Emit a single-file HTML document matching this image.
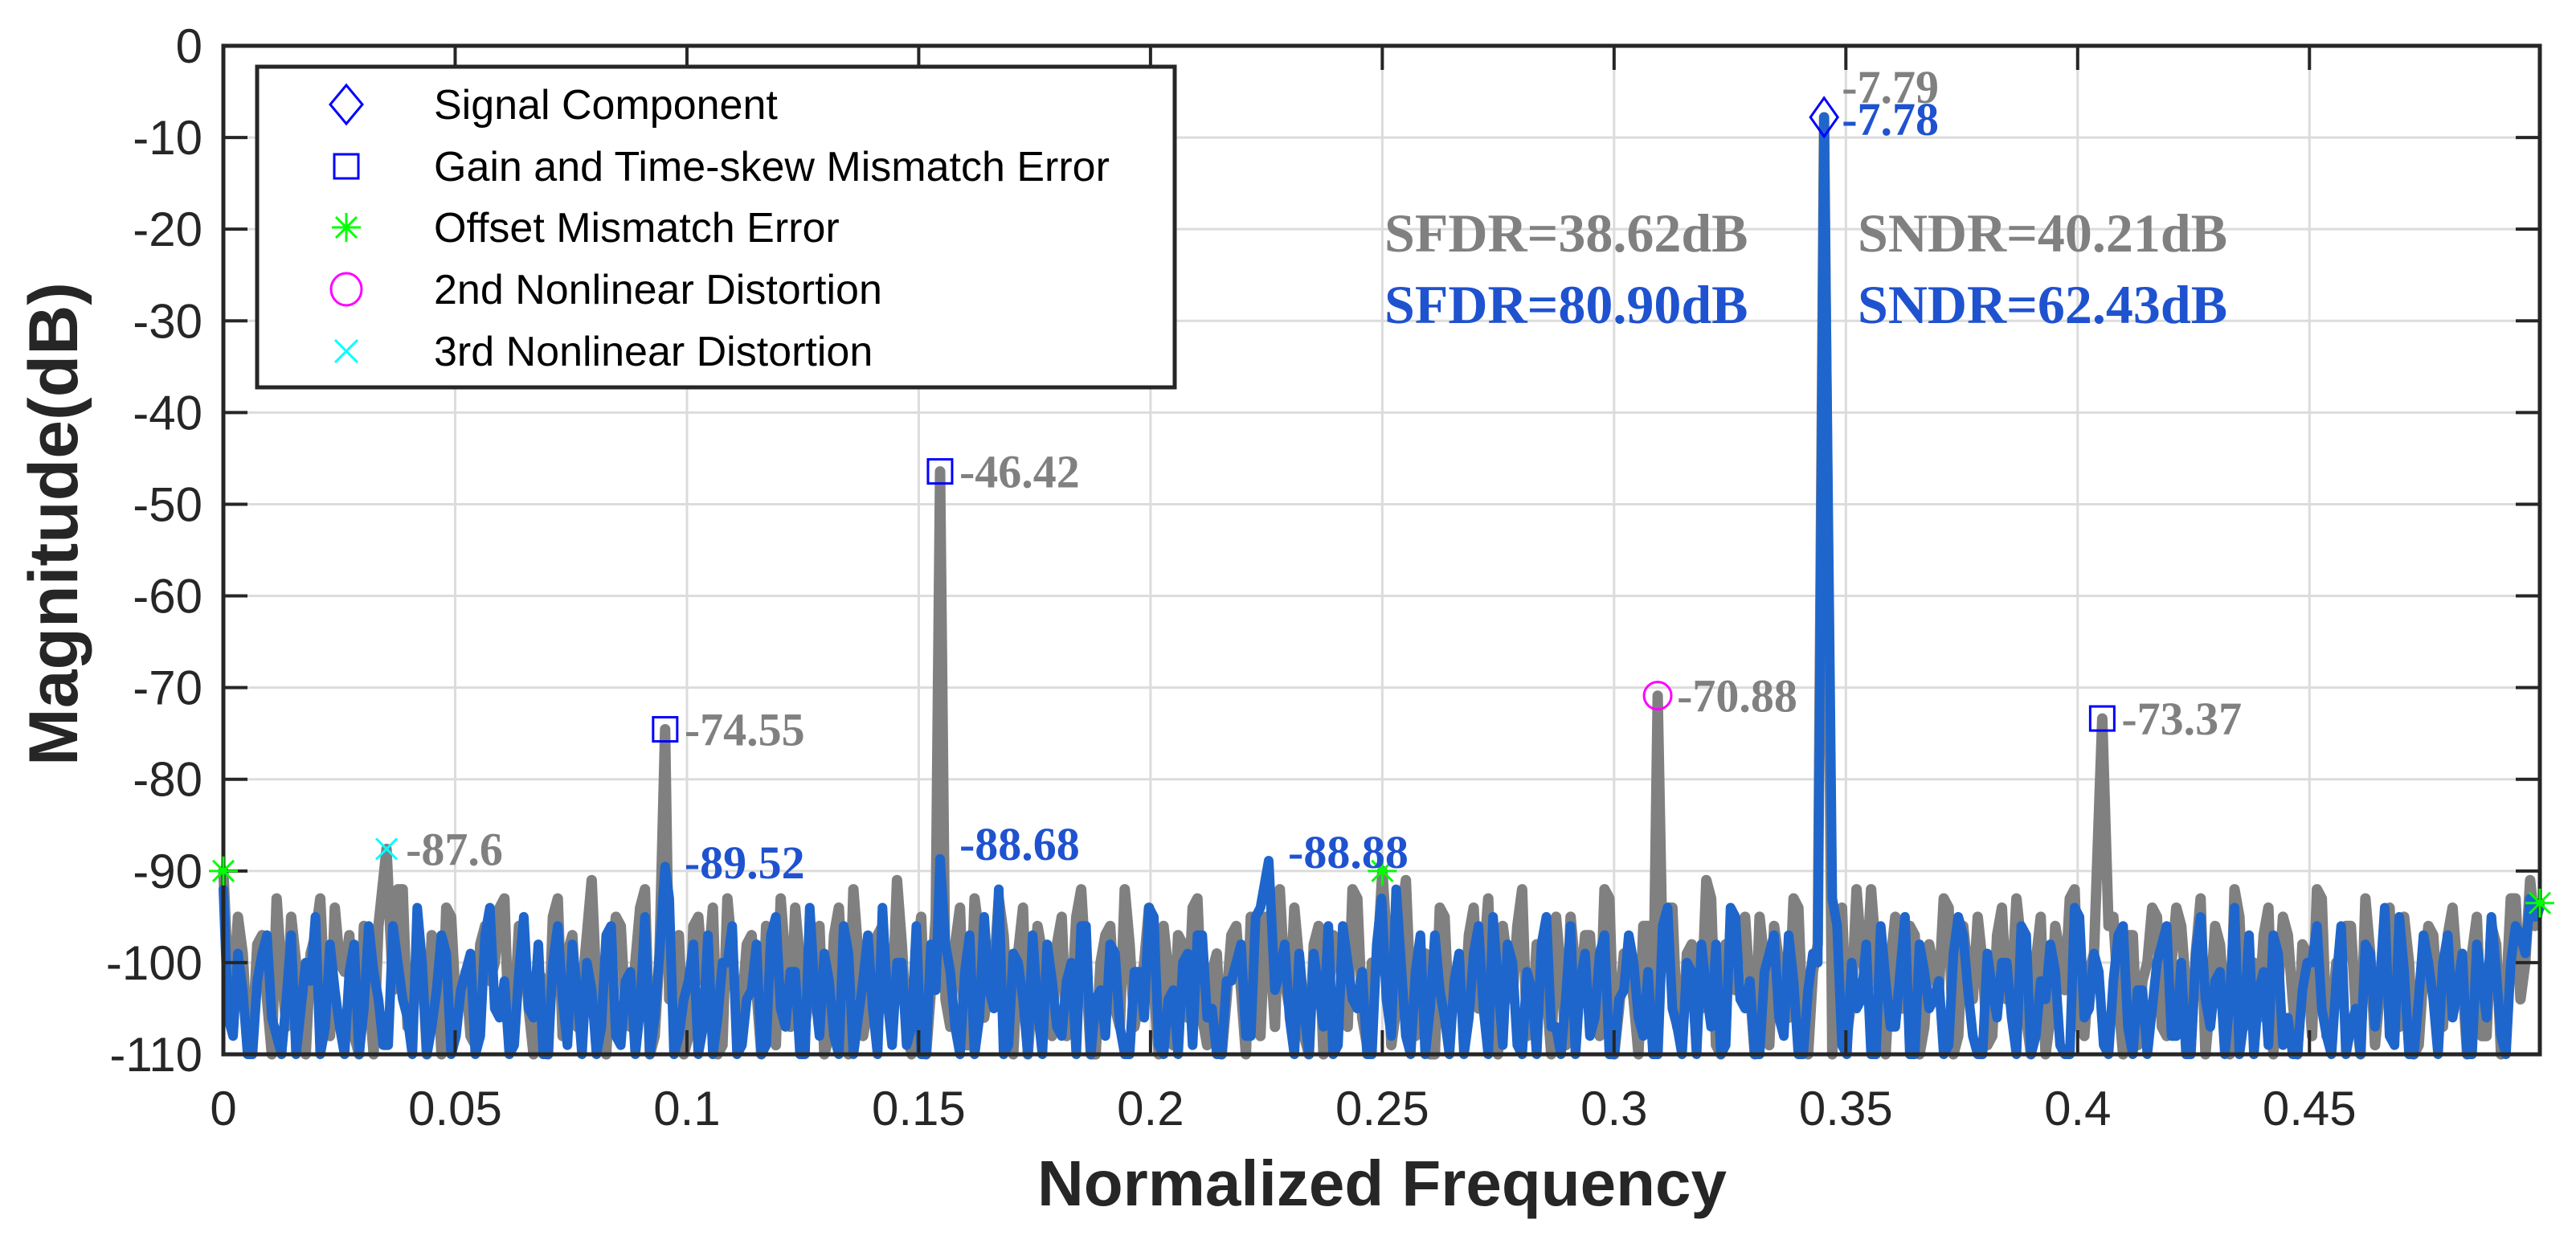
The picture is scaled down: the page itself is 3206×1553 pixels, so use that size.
<!DOCTYPE html>
<html><head><meta charset="utf-8">
<style>
html,body{margin:0;padding:0;background:#fff;}
svg{display:block;}
.tk{font-family:"Liberation Sans",Arial,sans-serif;font-size:60px;fill:#262626;}
.lg{font-family:"Liberation Sans",Arial,sans-serif;font-size:52px;fill:#000;}
.ttl{font-family:"Liberation Sans",Arial,sans-serif;font-weight:bold;fill:#262626;}
.an{font-family:"Liberation Serif","Times New Roman",serif;font-weight:bold;}
</style></head>
<body>
<svg id="chart" width="3206" height="1553" viewBox="0 0 3206 1553" xmlns="http://www.w3.org/2000/svg">
<rect width="3206" height="1553" fill="#fff"/>
<g id="grid"></g>
<g id="series"></g>
<g id="axes"></g>
<g id="markers"></g>
<g id="annots"></g>
<text class="ttl" font-size="80" x="1720" y="1500" text-anchor="middle">Normalized Frequency</text>
<text class="ttl" font-size="86" transform="translate(96,652) rotate(-90)" text-anchor="middle">Magnitude(dB)</text>
<g id="legend">
<rect x="320" y="83" width="1142" height="399" fill="#fff" stroke="#262626" stroke-width="5"/>
<g>
<polygon points="431,106 451,130 431,154 411,130" fill="none" stroke="#0000ff" stroke-width="3"/>
<text class="lg" x="540" y="148">Signal Component</text></g>
<g>
<rect x="416" y="192" width="30" height="30" fill="none" stroke="#0000ff" stroke-width="3"/>
<text class="lg" x="540" y="225">Gain and Time-skew Mismatch Error</text></g>
<g>
<path d="M431,265V301M413,283H449M418,270L444,296M418,296L444,270" stroke="#00ff00" stroke-width="3"/>
<text class="lg" x="540" y="301">Offset Mismatch Error</text></g>
<g>
<ellipse cx="431" cy="360" rx="19" ry="20" fill="none" stroke="#ff00ff" stroke-width="3"/>
<text class="lg" x="540" y="378">2nd Nonlinear Distortion</text></g>
<g>
<path d="M417,423L445,451M417,451L445,423" stroke="#00ffff" stroke-width="3"/>
<text class="lg" x="540" y="455">3rd Nonlinear Distortion</text></g>
</g>
</svg>
<script>
const xTicks=[0,0.05,0.1,0.15,0.2,0.25,0.3,0.35,0.4,0.45];
const xTickLabels=["0","0.05","0.1","0.15","0.2","0.25","0.3","0.35","0.4","0.45"];
const yTicks=[0,-10,-20,-30,-40,-50,-60,-70,-80,-90,-100,-110];
const yTickLabels=["0","-10","-20","-30","-40","-50","-60","-70","-80","-90","-100","-110"];
const fMax=0.4997;
const grayNoise=[-96,-104,-99,-108,-97,-110,-101,-95,-106,-99,
-93,-108,-100,-97,-110,-103,-96,-105,-92,-107,
-99,-110,-98,-94,-105,-101,-109,-96,-100,-93,
-106,-98,-110,-102,-95,-108,-97,-103,-91,-109,
-100,-96,-107,-94,-110,-99,-104,-97,-108,-95,
-101,-110,-93,-106,-98,-103,-96,-109,-100,-94,
-107,-99,-110,-97,-104,-92,-108,-101,-96,-105,
-98,-110,-95,-103,-100,-107,-94,-109,-97,-102,
-93,-106,-99,-110,-96,-104,-98,-108,-95,-101,
-110,-97,-105,-92,-107,-100,-103,-96,-109,-98,
-94,-106,-101,-110,-97,-103,-95,-108,-99,-92,
-105,-100,-110,-96,-104,-98,-107,-93,-109,-101,
-97,-105,-91,-108,-99,-110,-95,-102,-106,-94,
-100,-109,-96,-104,-92,-107,-98,-110,-101,-95,
-103,-97,-108,-93,-105,-100,-110,-96,-102,-94,
-107,-99,-104,-91,-109,-98,-103,-95,-110,-100,
-96,-106,-93,-108,-101,-97,-110,-94,-104,-99,
-92,-107,-100,-105,-96,-110,-98,-103,-94,-108,
-101,-95,-109,-97,-104,-93,-106,-100,-110,-96,
-103,-92,-108,-99,-105,-95,-110,-97,-102,-94,
-107,-100,-96,-109,-93,-104,-98,-110,-95,-101,
-106,-94,-103,-97,-110,-99,-92,-108,-100,-96,
-105,-93,-109,-98,-104,-95,-110,-101,-97,-107,
-94,-102,-99,-108,-96,-110,-93,-104,-91,-95];
const grayNoiseMid=[-102,-95,-109,-98,-104,-93,-107,-100,-110,-97,
-105,-94,-101,-108,-96,-110,-99,-103,-92,-106,
-100,-97,-110,-95,-104,-108,-98,-102,-94,-109,
-96,-105,-101,-110,-93,-99,-107,-97,-103,-110,
-95,-106,-100,-92,-108,-98,-104,-110,-96,-102,
-94,-109,-99,-105,-97,-110,-101,-93,-107,-100,
-103,-96,-108,-94,-110,-99,-105,-97,-102,-91,
-107,-100,-110,-95,-104,-98,-109,-93,-106,-101,
-97,-110,-94,-103,-99,-108,-95,-105,-92,-110,
-100,-96,-107,-98,-104,-94,-110,-101,-97,-106,
-93,-109,-99,-104,-96,-110,-100,-95,-107,-102,
-94,-108,-98,-110,-97,-103,-92,-106,-100,-96,
-109,-95,-104,-99,-110,-94,-107,-101,-97,-105,
-93,-110,-100,-96,-108,-98,-103,-95,-109,-101,
-97,-106,-92,-110,-99,-104,-96,-107,-100,-94,
-108,-98,-105,-93,-110,-101,-97,-103,-95,-109,
-100,-106,-94,-110,-98,-104,-96,-108,-92,-102,
-99,-110,-95,-105,-97,-107,-101,-93,-110,-96,
-104,-100,-108,-94,-103,-98,-110,-95,-106,-99,
-93,-107,-101,-110,-96,-104,-97,-109,-100,-95,
-108,-94,-103,-99,-110,-96,-105,-92,-107,-100,
-97,-110,-95,-104,-98,-108,-93,-106,-101,-96,
-110,-99,-103,-94,-107,-100,-109,-96,-105,-97,
-101,-110,-95,-108,-98,-104,-93,-100,-96,-94];
const blueNoise=[-100,-108,-103,-110,-99,-106,-110,-97,-105,-102,
-110,-98,-107,-101,-110,-96,-104,-109,-100,-106,
-94,-110,-103,-99,-108,-101,-110,-97,-105,-102,
-109,-95,-106,-110,-100,-104,-98,-110,-103,-107,
-96,-109,-101,-105,-110,-99,-93,-108,-102,-110,
-97,-106,-100,-110,-104,-98,-109,-95,-107,-101,
-110,-103,-99,-108,-96,-110,-102,-105,-94,-109,
-100,-107,-110,-98,-104,-101,-110,-97,-106,-103,
-92,-109,-100,-110,-105,-98,-107,-102,-110,-96,
-104,-108,-99,-110,-101,-106,-95,-110,-103,-100,
-109,-97,-105,-110,-102,-98,-108,-94,-110,-101,
-106,-99,-110,-103,-96,-109,-100,-105,-110,-98,
-104,-92,-108,-101,-110,-97,-106,-102,-110,-99,
-105,-95,-109,-100,-110,-103,-98,-107,-110,-96,
-102,-108,-99,-110,-104,-97,-106,-101,-110,-94,
-107,-100,-110,-103,-98,-109,-95,-105,-110,-101,
-97,-108,-102,-110,-99,-106,-93,-109,-100,-104,
-110,-96,-107,-101,-110,-98,-105,-102,-109,-95,
-103,-110,-99,-106,-100,-110,-97,-108,-104,-101,
-110,-94,-106,-99,-109,-102,-96,-110,-103,-105,
-98,-108,-100,-110,-95,-107,-101,-104,-110,-97,
-103,-109,-99,-106,-110,-100,-96,-108,-102,-110,
-105,-98,-107,-94,-109,-101,-110,-97,-104,-100,
-106,-99,-110,-102,-95,-108,-100,-97,-93,-92];
const blueNoiseMid=[-106,-99,-110,-102,-97,-108,-104,-110,-100,-95,
-107,-103,-110,-98,-105,-101,-109,-96,-104,-110,
-100,-107,-97,-110,-103,-99,-108,-94,-106,-110,
-101,-105,-98,-110,-96,-109,-103,-100,-110,-97,
-108,-102,-110,-95,-106,-99,-110,-104,-98,-107,
-110,-100,-96,-109,-103,-110,-97,-105,-101,-110,
-94,-108,-102,-110,-99,-106,-97,-110,-104,-100,
-109,-96,-110,-103,-98,-107,-101,-110,-95,-105,
-110,-99,-104,-97,-110,-102,-108,-100,-96,-110,
-103,-98,-107,-110,-101,-94,-109,-104,-110,-99,
-97,-106,-110,-102,-100,-108,-95,-110,-103,-98,
-110,-105,-99,-107,-110,-96,-104,-101,-110,-93,
-108,-100,-110,-97,-105,-103,-110,-99,-106,-96,
-110,-102,-98,-109,-101,-110,-95,-107,-104,-110,
-99,-106,-97,-110,-103,-100,-108,-110,-96,-105,
-110,-101,-98,-107,-110,-94,-104,-102,-110,-99,
-106,-97,-110,-103,-100,-109,-96,-110,-105,-98,
-110,-102,-107,-95,-110,-101,-104,-110,-99,-97,
-108,-110,-103,-100,-106,-96,-110,-102,-98,-109,
-110,-95,-105,-101,-110,-97,-107,-103,-110,-100,
-96,-108,-110,-99,-104,-102,-110,-94,-106,-110,
-101,-97,-109,-110,-103,-100,-105,-110,-96,-107,
-110,-99,-102,-108,-95,-110,-104,-100,-110,-97,
-103,-110,-98,-106,-101,-110,-96,-99,-95,-93];
const grayPeakFreqs=[0.0,0.0352,0.0953,0.1546,0.25,0.3094,0.3453,0.4053,0.4997];
const grayPeakVals=[-90,-87.6,-74.55,-46.42,-90,-70.88,-7.79,-73.37,-93.5];
const bluePeakFreqs=[0.0,0.0953,0.1546,0.2255,0.3453,0.4997];
const bluePeakVals=[-92,-89.52,-88.68,-88.88,-7.78,-94];
const markerTypes=["star","x","square","square","star","circle","diamond","square","star"];
const grayLabels=["","-87.6","-74.55","-46.42","","-70.88","-7.79","-73.37",""];
const blueLabelIdx=[1,2,3,4];
const blueLabels=["-89.52","-88.68","-88.88","-7.78"];

const L=278,R=3161,T=57,B=1312;
const X=f=>L+f/fMax*(R-L);
const Y=d=>T+(-d)/110*(B-T);
const NS="http://www.w3.org/2000/svg";
function mk(tag,attrs,parent){const e=document.createElementNS(NS,tag);for(const k in attrs)e.setAttribute(k,attrs[k]);parent.appendChild(e);return e;}
const grid=document.getElementById('grid'),axes=document.getElementById('axes');
xTicks.forEach((t,i)=>{
 const g=mk('line',{x1:X(t),x2:X(t),y1:T,y2:B,stroke:'#dcdcdc','stroke-width':3},grid);
 
 
 const tk=mk('path',{d:`M${X(t)},${B}V${B-30}M${X(t)},${T}V${T+30}`,stroke:'#262626','stroke-width':4},axes);
 
 
 const lb=mk('text',{x:X(t),y:1400,'text-anchor':'middle',class:'tk'},axes);
 lb.textContent=xTickLabels[i];
 
 
});
yTicks.forEach((t,i)=>{
 const g=mk('line',{x1:L,x2:R,y1:Y(t),y2:Y(t),stroke:'#dcdcdc','stroke-width':3},grid);
 
 
 const tk=mk('path',{d:`M${L},${Y(t)}H${L+30}M${R},${Y(t)}H${R-30}`,stroke:'#262626','stroke-width':4},axes);
 
 
 const lb=mk('text',{x:252,y:Y(t)+21,'text-anchor':'end',class:'tk'},axes);
 lb.textContent=yTickLabels[i];
 
 
});
const box=mk('rect',{x:L,y:T,width:R-L,height:B-T,fill:'none',stroke:'#262626','stroke-width':5},axes);



function buildPts(noise,mid,pf,pv){
 const step=fMax/(noise.length-1);
 const pts=noise.map((v,i)=>[i*step,v]);
 mid.forEach((v,j)=>{ if(j<noise.length-1) pts.push([(j+0.5)*step,v]); });
 pf.forEach((f,i)=>{
  for(let j=pts.length-1;j>=0;j--){ if(Math.abs(pts[j][0]-f)<step*0.4) pts.splice(j,1); }
  pts.push([f,pv[i]]);
 });
 pts.sort((a,b)=>a[0]-b[0]);
 return pts;
}
function pathOf(pts){return pts.map((p,i)=>(i?'L':'M')+X(p[0]).toFixed(1)+','+Y(Math.max(-110,p[1])).toFixed(1)).join('');}
const ser=document.getElementById('series');
const gp=mk('path',{d:pathOf(buildPts(grayNoise,grayNoiseMid,grayPeakFreqs,grayPeakVals)),fill:'none',stroke:'#808080','stroke-width':13,'stroke-linejoin':'round','stroke-linecap':'round'},ser);


const bp=mk('path',{d:pathOf(buildPts(blueNoise,blueNoiseMid,bluePeakFreqs,bluePeakVals)),fill:'none',stroke:'#1e66cc','stroke-width':12,'stroke-linejoin':'round','stroke-linecap':'round'},ser);



const mg=document.getElementById('markers');
grayPeakFreqs.forEach((f,i)=>{
 const x=X(f),y=Y(grayPeakVals[i]);let e;const t=markerTypes[i];
 if(t==='square')e=mk('rect',{x:x-15,y:y-15,width:30,height:30,fill:'none',stroke:'#0000ff','stroke-width':3},mg);
 else if(t==='diamond')e=mk('polygon',{points:`${x},${y-24} ${x+17},${y} ${x},${y+24} ${x-17},${y}`,fill:'none',stroke:'#0000ff','stroke-width':3},mg);
 else if(t==='circle')e=mk('circle',{cx:x,cy:y,r:17,fill:'none',stroke:'#ff00ff','stroke-width':3},mg);
 else if(t==='x')e=mk('path',{d:`M${x-13},${y-13}L${x+13},${y+13}M${x-13},${y+13}L${x+13},${y-13}`,stroke:'#00ffff','stroke-width':3},mg);
 else e=mk('path',{d:`M${x},${y-18}V${y+18}M${x-18},${y}H${x+18}M${x-13},${y-13}L${x+13},${y+13}M${x-13},${y+13}L${x+13},${y-13}`,stroke:'#00ff00','stroke-width':3},mg);
 
 
});
const an=document.getElementById('annots');
grayPeakFreqs.forEach((f,i)=>{
 if(!grayLabels[i])return;
 const isSig=grayLabels[i]==='-7.79';
 const e=mk('text',{x:X(f)+(isSig?22:24),y:isSig?128:Y(grayPeakVals[i])+20,class:'an',fill:'#808080','font-size':58},an);
 e.textContent=grayLabels[i];
 
 
});
blueLabelIdx.forEach((k,i)=>{
 const f=bluePeakFreqs[k];const isSig=blueLabels[i]==='-7.78';
 const e=mk('text',{x:X(f)+(isSig?22:24),y:isSig?168:[1093,1070,1080][i],class:'an',fill:'#1f52cf','font-size':58},an);
 e.textContent=blueLabels[i];
 
 
});
[["SFDR=38.62dB",1723,313,'#808080'],["SFDR=80.90dB",1723,402,'#1f52cf'],["SNDR=40.21dB",2312,313,'#808080'],["SNDR=62.43dB",2312,402,'#1f52cf']].forEach(a=>{
 const e=mk('text',{x:a[1],y:a[2],class:'an',fill:a[3],'font-size':68},an);
 e.textContent=a[0];
 
 
});
</script>
</body></html>
